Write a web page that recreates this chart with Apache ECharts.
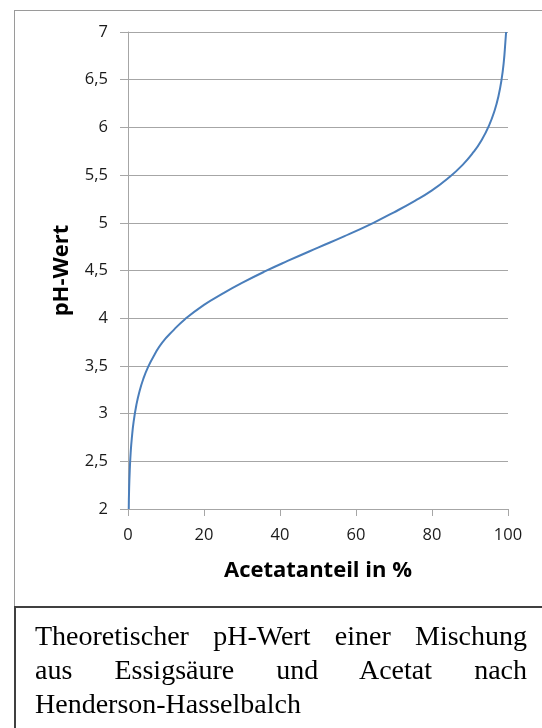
<!DOCTYPE html>
<html>
<head>
<meta charset="utf-8">
<script src="https://cdn.jsdelivr.net/npm/echarts@6/dist/echarts.min.js"></script>
<style>
  body { margin: 0; background: #fff; width: 542px; height: 728px; overflow: hidden; position: relative; }
  .frame { position: absolute; left: 14px; top: 10px; width: 540px; height: 597px; border-left: 1px solid #9a9a9a; border-top: 1px solid #9a9a9a; }
  #chart { position: absolute; left: 0; top: 0; width: 542px; height: 607px; }
  .sep { position: absolute; left: 14px; top: 606px; width: 530px; height: 2px; background: #404040; }
  .capbox { position: absolute; left: 14px; top: 607px; width: 0; height: 121px; border-left: 2px solid #404040; }
  .caption { position: absolute; left: 35px; top: 619px; width: 492px; font-family: "Liberation Serif", "Times New Roman", serif; font-size: 28px; line-height: 34px; color: #000; }
  .caption .j { display: block; text-align: justify; text-align-last: justify; }
  .caption .l { display: block; text-align: left; }
</style>
</head>
<body>
<div class="frame"></div>
<div id="chart"></div>
<div class="sep"></div>
<div class="capbox"></div>
<div class="caption">
  <span class="j">Theoretischer pH-Wert einer Mischung</span>
  <span class="j">aus Essigsäure und Acetat nach</span>
  <span class="l">Henderson-Hasselbalch</span>
</div>
<script>
const acetat = [0.2, 0.3, 0.5, 0.7, 1, 1.5, 2.2, 3, 4, 5.3, 7, 9, 12, 15, 20, 25, 30, 36, 42, 50, 57, 64.6, 70, 75.5, 80, 84, 88, 91, 93, 95, 96.5, 97.5, 98.3, 98.9, 99.3, 99.5];
const phWert = [2.0, 2.22, 2.44, 2.59, 2.74, 2.92, 3.09, 3.23, 3.36, 3.49, 3.62, 3.745, 3.875, 3.99, 4.14, 4.26, 4.37, 4.49, 4.6, 4.74, 4.86, 5.0, 5.11, 5.23, 5.34, 5.46, 5.605, 5.745, 5.863, 6.019, 6.18, 6.33, 6.50, 6.69, 6.89, 7.0];

const xTicks = { min: 0, max: 100, interval: 20 };
const yTicks = { min: 2, max: 7, interval: 0.5 };

const chart = echarts.init(document.getElementById("chart"));

const axisGray = "#a6a6a6";
const labelFont = "Open Sans";

const option = {
  animation: false,
  grid: { left: 128, top: 32, right: 34, bottom: 98 },
  xAxis: {
    type: "value",
    min: xTicks.min,
    max: xTicks.max,
    interval: xTicks.interval,
    name: "Acetatanteil in %",
    nameLocation: "middle",
    nameGap: 51,
    nameTextStyle: { fontFamily: labelFont, fontWeight: "bold", fontSize: 22, color: "#000" },
    axisLine: { show: true, lineStyle: { color: axisGray, width: 1 } },
    axisTick: { show: true, length: 7, lineStyle: { color: axisGray } },
    axisLabel: { margin: 18, fontFamily: labelFont, fontSize: 16.5, color: "#1a1a1a" },
    splitLine: { show: false },
  },
  yAxis: {
    type: "value",
    min: yTicks.min,
    max: yTicks.max,
    interval: yTicks.interval,
    name: "pH-Wert",
    nameLocation: "middle",
    nameRotate: 90,
    nameGap: 55,
    nameTextStyle: { fontFamily: labelFont, fontWeight: "bold", fontSize: 22, color: "#000" },
    axisLine: { show: true, lineStyle: { color: axisGray, width: 1 } },
    axisTick: { show: true, length: 8, lineStyle: { color: axisGray } },
    axisLabel: {
      margin: 20,
      fontFamily: labelFont,
      fontSize: 16.5,
      color: "#1a1a1a",
      formatter: (v) => String(v).replace(".", ","),
    },
    splitLine: { show: true, lineStyle: { color: axisGray, width: 1 } },
  },
  series: [
    {
      type: "line",
      data: acetat.map((x, i) => [x, phWert[i]]),
      smooth: 0.5,
      symbol: "none",
      lineStyle: { color: "#4a7ebb", width: 2 },
    },
  ],
};

chart.setOption(option);
</script>
</body>
</html>
